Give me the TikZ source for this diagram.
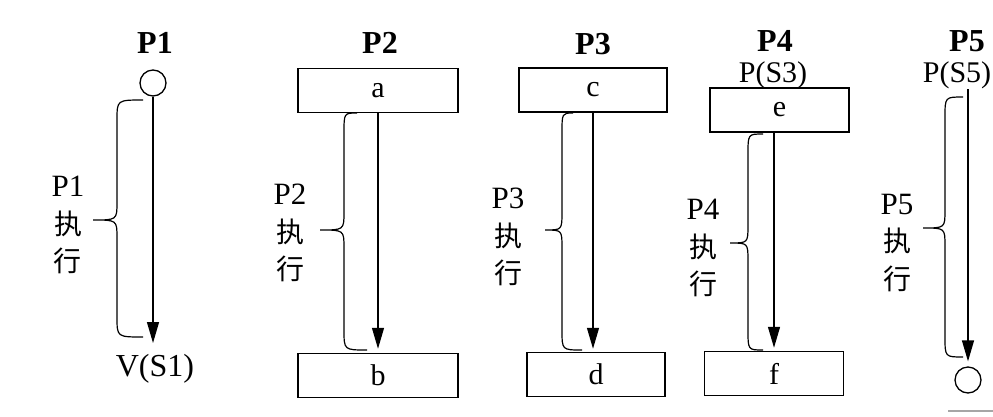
\documentclass[tikz,border=0pt]{standalone}
\usepackage{fontspec}
\setmainfont{Liberation Serif}
\newfontfamily\cjk{Noto Sans CJK SC}
\usetikzlibrary{arrows.meta}
\newcommand\mybrace[7]{\draw[brc] (#1,#2) .. controls (#3,#2) .. (#3,#2+20) -- (#3,#5-18) .. controls (#3,#5) .. (#4,#5) .. controls (#3,#5) .. (#3,#5+18) -- (#3,#7-20) .. controls (#3,#7) .. (#6,#7);}
\newcommand\zh[1]{{\cjk\fontsize{28}{37.5}\selectfont #1}}
\begin{document}
\begin{tikzpicture}[x=1pt,y=-1pt,
  every node/.style={font=\fontsize{30}{37.5}\selectfont, inner sep=0pt},
  hd/.style={font=\fontsize{32}{34}\selectfont\bfseries},
  big/.style={font=\fontsize{32}{34}\selectfont},
  box/.style={draw, line width=1.5pt, minimum height=44pt, inner sep=0pt},
  proc/.style={circle, draw, line width=1.3pt, minimum size=26pt},
  flow/.style={line width=1.3pt, -{Triangle[length=21pt,width=12pt]}},
  brc/.style={line width=1.2pt},
  side/.style={align=center, font=\fontsize{31}{37.5}\selectfont}]
\useasboundingbox (0,0) rectangle (993,416);

% P1
\node[hd] (h1) at (155,43) {P1};
\node[proc] (c1) at (153,83) {};
\node[big] (v1) at (155,369) {V(S1)};
\coordinate (t1) at (153,343);
\draw[flow] (c1) -- (t1);
\mybrace{143}{100}{117}{93}{220}{143}{337}
\node[side] (l1) at (68,225) {P1\\\zh{执}\\\zh{行}};

% P2
\node[hd] (h2) at (380,43) {P2};
\node[box, minimum width=160pt] (a) at (378,90.5) {a};
\node[box, minimum width=160pt] (b) at (378,375.5) {b};
\draw[flow, shorten >=4pt] (a) -- (b);
\mybrace{357}{113}{344}{320}{230}{367}{350}
\node[side] (l2) at (290,233) {P2\\\zh{执}\\\zh{行}};

% P3
\node[hd] (h3) at (593,44) {P3};
\node[box, minimum width=148pt] (c) at (593,90) {c};
\node[box, minimum width=138pt] (d) at (596,374.5) {d};
\draw[flow, shorten >=3pt] (c.south) -- (c.south |- d.north);
\mybrace{573}{113}{562}{545}{230}{582}{350}
\node[side] (l3) at (508,237) {P3\\\zh{执}\\\zh{行}};

% P4
\node[hd] (h4) at (775,41) {P4};
\node (ps3) at (773,75) {P(S3)};
\node[box, minimum width=139pt] (e) at (779.5,110) {e};
\node[box, minimum width=139pt] (f) at (774,373.5) {f};
\draw[flow, shorten >=3pt] (f.north |- e.south) -- (f.north);
\mybrace{763}{134}{748}{730}{243}{763}{350}
\node[side] (l4) at (703,248) {P4\\\zh{执}\\\zh{行}};

% P5
\node[hd] (h5) at (967,41) {P5};
\node (ps5) at (957,75) {P(S5)};
\coordinate (s5) at (968,89);
\node[proc] (c5) at (968,380) {};
\draw[flow, shorten >=5pt] (s5) -- (c5);
\mybrace{963}{97}{945}{923}{228}{963}{357}
\node[side] (l5) at (897,243) {P5\\\zh{执}\\\zh{行}};

\draw[gray!70, line width=2pt] (948,411) -- (993,411);
\end{tikzpicture}
\end{document}
